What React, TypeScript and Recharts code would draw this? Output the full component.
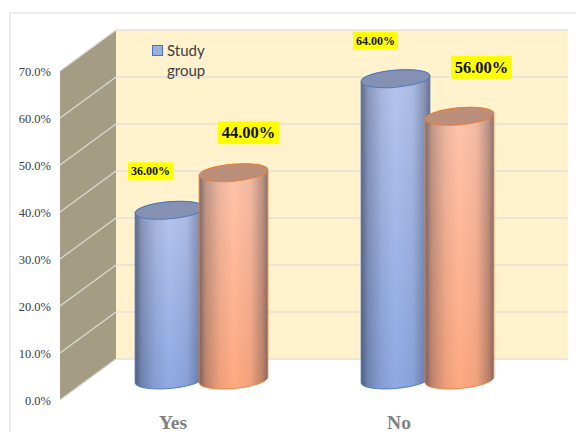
import { Bar, BarChart, CartesianGrid, LabelList, Legend, XAxis, YAxis } from "recharts";

const categories = ["Yes", "No"];
const studyGroup = [36, 64];
const controlGroup = [44, 56];
const yTicks = [0, 10, 20, 30, 40, 50, 60, 70];

const data = categories.map((name, i) => ({
  name,
  study: studyGroup[i],
  control: controlGroup[i],
}));

// front edge of the fake 3D box, the plot area lies on this plane
const FRONT_X = 60;
const PLOT_TOP = 71;
const PLOT_BOTTOM = 400;
const DEPTH_X = 56;
const DEPTH_Y = 41;
const WALL_RIGHT = 568;
const BACK_X = FRONT_X + DEPTH_X;

const WALL_SIDE = "#a49d84";
const WALL_BACK = "#fff2cc";

// side and back walls, drawn once from the zero line
function WallLine({ y1 }: any) {
  if (Math.abs(y1 - PLOT_BOTTOM) > 1) return <g />;
  return (
    <g>
      <rect
        x={BACK_X}
        y={PLOT_TOP - DEPTH_Y}
        width={WALL_RIGHT - BACK_X}
        height={PLOT_BOTTOM - PLOT_TOP}
        fill={WALL_BACK}
      />
      <polygon
        points={`${FRONT_X},${PLOT_TOP} ${BACK_X},${PLOT_TOP - DEPTH_Y} ${BACK_X},${PLOT_BOTTOM - DEPTH_Y} ${FRONT_X},${PLOT_BOTTOM}`}
        fill={WALL_SIDE}
      />
    </g>
  );
}

// each gridline runs up the side wall, then along the back wall
function BoxLine({ y1 }: any) {
  const backY = y1 - DEPTH_Y;
  return (
    <g>
      <line x1={FRONT_X} y1={y1} x2={BACK_X} y2={backY} stroke="#dcdcd6" strokeWidth={1.2} />
      <line x1={BACK_X} y1={backY} x2={WALL_RIGHT} y2={backY} stroke="#e3e1d8" strokeWidth={1.4} />
    </g>
  );
}

function ValueTick({ y, payload }: any) {
  return (
    <text
      x={51}
      y={y + 4.5}
      textAnchor="end"
      fontFamily="Liberation Serif"
      fontSize={12.5}
      fill="#404040"
    >
      {payload.value.toFixed(1)}%
    </text>
  );
}

function CategoryTick({ x, y, payload }: any) {
  return (
    <text
      x={x}
      y={y + 21}
      textAnchor="middle"
      fontFamily="Liberation Serif"
      fontWeight="bold"
      fontSize={19.5}
      fill="#7f7f7f"
    >
      {payload.value}
    </text>
  );
}

const TILT = 5;
const RY = 8.5;

// Cylinder sits halfway into the box depth
function cylinder(id: string, rim: string, cap: string) {
  return function Cylinder({ x, y, width, height }: any) {
    const rx = width / 2;
    const cx = x + rx + DEPTH_X / 2;
    const top = y - DEPTH_Y / 2;
    const bottom = y + height - DEPTH_Y / 2 + 0.5;
    const dy = rx * Math.sin((TILT * Math.PI) / 180);
    const dx = rx * Math.cos((TILT * Math.PI) / 180);
    const body =
      `M${cx - dx},${top + dy} L${cx - dx},${bottom + dy} ` +
      `A${rx},${RY} ${-TILT} 0 0 ${cx + dx},${bottom - dy} ` +
      `L${cx + dx},${top - dy} A${rx},${RY} ${-TILT} 0 0 ${cx - dx},${top + dy} Z`;
    return (
      <g>
        <path d={body} fill={`url(#${id})`} />
        <path d={body} fill="url(#shade)" stroke={rim} strokeWidth={1} strokeOpacity={0.85} />
        <ellipse
          cx={cx}
          cy={top}
          rx={rx}
          ry={RY}
          transform={`rotate(${-TILT} ${cx} ${top})`}
          fill={cap}
          stroke={rim}
          strokeWidth={1}
          strokeOpacity={0.85}
        />
      </g>
    );
  };
}

// label boxes sit apart from the bars, nudges are per series and category
const studyNudge = [
  [-19, -39],
  [-20, -38],
];
const controlNudge = [
  [15, -40],
  [22, -49],
];

function valueLabel(nudge: number[][], w: number, h: number, fontSize: number) {
  return function ValueLabel({ x, y, width, value, index }: any) {
    const cx = x + width / 2 + DEPTH_X / 2 + nudge[index][0];
    const cy = y - DEPTH_Y / 2 + nudge[index][1];
    return (
      <g>
        <rect x={cx - w / 2} y={cy - h / 2} width={w} height={h} fill="#ffff00" />
        <text
          x={cx}
          y={cy + fontSize * 0.33}
          textAnchor="middle"
          fontFamily="Liberation Serif"
          fontWeight="bold"
          fontSize={fontSize}
          fill="#111"
        >
          {Number(value).toFixed(2)}%
        </text>
      </g>
    );
  };
}

function StudyLegend({ payload }: any) {
  const entry = payload?.find((p: any) => p.dataKey === "study");
  return (
    <div
      style={{
        display: "flex",
        alignItems: "flex-start",
        fontFamily: "Lato",
        fontSize: 15,
        lineHeight: "20px",
        color: "#404040",
      }}
    >
      <span
        style={{
          width: 9,
          height: 9,
          marginTop: 5,
          marginRight: 4,
          flex: "none",
          background: "#9db0dc",
          border: "1px solid #4472c4",
        }}
      />
      <span style={{ width: 50 }}>{entry?.value}</span>
    </div>
  );
}

export default function App() {
  return (
    <div style={{ position: "absolute", left: 0, top: 0, width: 576, height: 432, background: "#fff" }}>
      <div
        style={{
          position: "absolute",
          left: 9,
          top: 12,
          width: 567,
          height: 420,
          boxSizing: "border-box",
          borderTop: "2px solid #ececec",
          borderLeft: "2px solid #ececec",
        }}
      />
      <BarChart
        width={576}
        height={432}
        data={data}
        barSize={69}
        barGap={-5}
        margin={{ top: PLOT_TOP, right: 576 - 512, bottom: 0, left: 0 }}
        style={{ position: "absolute", left: 0, top: 0 }}
      >
        <defs>
          <linearGradient id="studyFill" x1="0" y1="0" x2="0" y2="1">
            <stop offset="0%" stopColor="#b6c5ee" />
            <stop offset="100%" stopColor="#8fa9e3" />
          </linearGradient>
          <linearGradient id="controlFill" x1="0" y1="0" x2="0" y2="1">
            <stop offset="0%" stopColor="#ffc5ac" />
            <stop offset="100%" stopColor="#ffa981" />
          </linearGradient>
          <linearGradient id="shade" x1="0" y1="0" x2="1" y2="0">
            <stop offset="0%" stopColor="#1a2030" stopOpacity={0.55} />
            <stop offset="10%" stopColor="#1a2030" stopOpacity={0.28} />
            <stop offset="30%" stopColor="#1a2030" stopOpacity={0.08} />
            <stop offset="50%" stopColor="#1a2030" stopOpacity={0} />
            <stop offset="75%" stopColor="#1a2030" stopOpacity={0.06} />
            <stop offset="92%" stopColor="#1a2030" stopOpacity={0.3} />
            <stop offset="100%" stopColor="#1a2030" stopOpacity={0.5} />
          </linearGradient>
        </defs>
        <CartesianGrid vertical={false} horizontal={(props: any) => <WallLine {...props} />} />
        <CartesianGrid vertical={false} horizontal={(props: any) => <BoxLine {...props} />} />
        <XAxis
          dataKey="name"
          height={32}
          axisLine={false}
          tickLine={false}
          tick={<CategoryTick />}
          interval={0}
        />
        <YAxis
          width={FRONT_X}
          domain={[0, 70]}
          ticks={yTicks}
          axisLine={false}
          tickLine={false}
          tick={<ValueTick />}
          interval={0}
        />
        <Legend
          layout="vertical"
          align="center"
          verticalAlign="middle"
          content={<StudyLegend />}
          wrapperStyle={{ position: "absolute", left: 152, top: 40, width: 110 }}
        />
        <Bar
          dataKey="study"
          name="Study group"
          isAnimationActive={false}
          fill="#9db0dc"
          shape={cylinder("studyFill", "#4472c4", "#8591b3")}
        >
          <LabelList dataKey="study" content={valueLabel(studyNudge, 45, 18, 12)} />
        </Bar>
        <Bar
          dataKey="control"
          name="Control group"
          legendType="none"
          isAnimationActive={false}
          fill="#f4b183"
          shape={cylinder("controlFill", "#ed7d31", "#bb8e7a")}
        >
          <LabelList dataKey="control" content={valueLabel(controlNudge, 61, 23, 16.5)} />
        </Bar>
      </BarChart>
    </div>
  );
}
